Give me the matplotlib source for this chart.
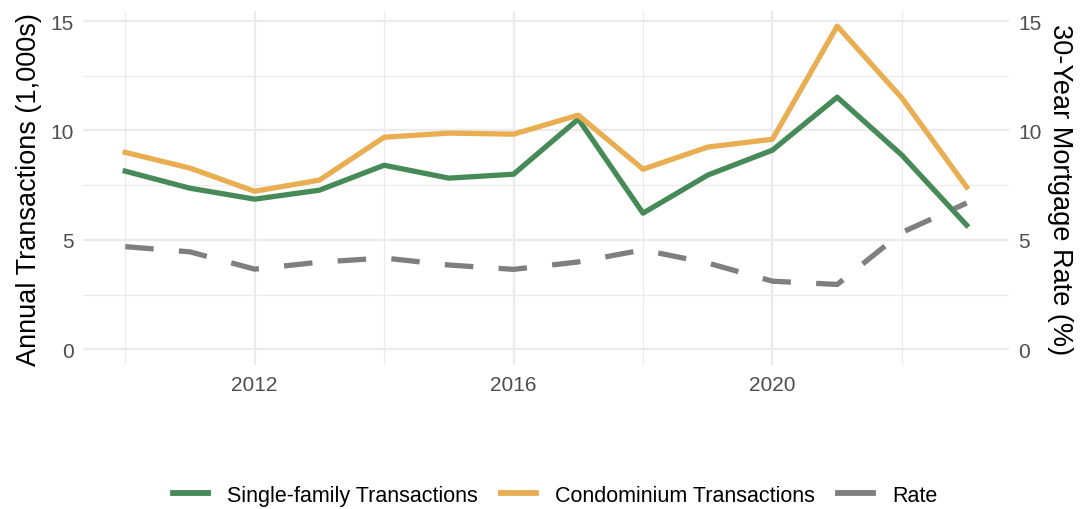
import numpy as np
import matplotlib
matplotlib.use("Agg")
import matplotlib.pyplot as plt
from matplotlib.lines import Line2D
from matplotlib.ticker import MultipleLocator

plt.rcParams['font.family'] = ['Liberation Sans', 'DejaVu Sans']

years = list(range(2010, 2024))
single_family = [8.14, 7.36, 6.86, 7.27, 8.41, 7.82, 8.0, 10.52, 6.22, 7.96, 9.1, 11.52, 8.87, 5.67]
condo = [9.0, 8.28, 7.22, 7.73, 9.69, 9.88, 9.83, 10.7, 8.23, 9.24, 9.6, 14.77, 11.48, 7.41]
rate = [4.69, 4.45, 3.66, 3.98, 4.17, 3.85, 3.65, 3.99, 4.54, 3.94, 3.11, 2.96, 5.34, 6.68]

green = "#468a57"
orange = "#e9ae52"
grey = "#7f7f7f"
grid_col = "#ebebeb"

fig = plt.figure(figsize=(10.8, 5.1), dpi=100)
ax = fig.add_axes([0.077, 0.282, 0.857, 0.694])

ax.plot(years, single_family, color=green, lw=3.8, zorder=3)
ax.plot(years, condo, color=orange, lw=3.8, zorder=3)
ax.plot(years, rate, color=grey, lw=3.8, ls=(0, (5.4, 4.8)), zorder=3)

ax.set_xlim(2009.35, 2023.65)
ax.set_ylim(-0.73, 15.45)
ax.set_xticks([2012, 2016, 2020])
ax.xaxis.set_minor_locator(MultipleLocator(2))
ax.set_yticks([0, 5, 10, 15])
ax.yaxis.set_minor_locator(MultipleLocator(2.5))
ax.grid(which='major', color=grid_col, lw=1.6)
ax.grid(which='minor', color=grid_col, lw=0.9)
ax.set_axisbelow(True)
for s in ax.spines.values():
    s.set_visible(False)
ax.tick_params(which='both', length=0, labelsize=15, labelcolor="#4d4d4d")
ax.tick_params(axis='x', pad=7)
ax.tick_params(axis='y', pad=7)
ax.set_ylabel("Annual Transactions (1,000s)", fontsize=19.5, color="black", labelpad=6)

ax2 = ax.twinx()
ax2.set_ylim(ax.get_ylim())
ax2.set_yticks([0, 5, 10, 15])
for s in ax2.spines.values():
    s.set_visible(False)
ax2.tick_params(length=0, labelsize=15, labelcolor="#4d4d4d", pad=7)
ax2.set_ylabel("30-Year Mortgage Rate (%)", fontsize=19.5, rotation=270, va='bottom', labelpad=4)

handles = [
    Line2D([], [], color=green, lw=4.2),
    Line2D([], [], color=orange, lw=4.2),
    Line2D([], [], color=grey, lw=4.2),
]
labels = ["Single-family Transactions", "Condominium Transactions", "Rate"]
fig.legend(handles, labels, loc='center', bbox_to_anchor=(0.514, 0.027), ncol=3, frameon=False,
           fontsize=15.5, handlelength=1.63, columnspacing=1.05, handletextpad=0.9)

fig.savefig("out.png", dpi=100)
